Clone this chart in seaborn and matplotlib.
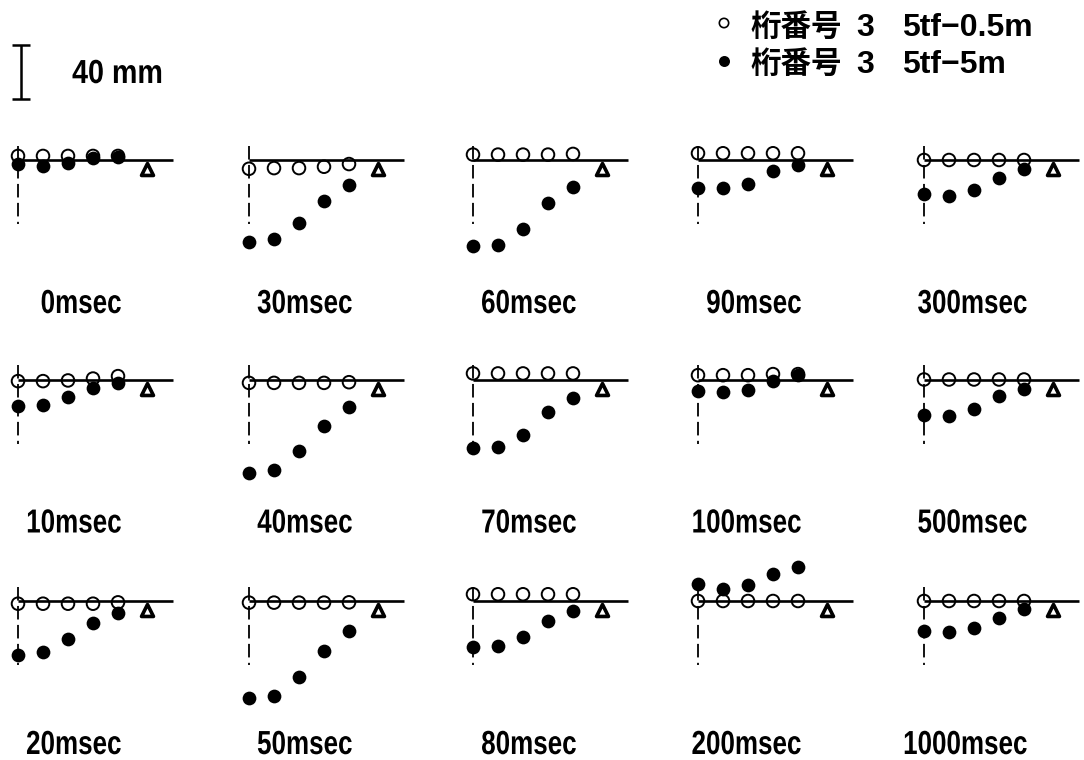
import numpy as np
import pandas as pd
import matplotlib
matplotlib.use("Agg")
import matplotlib.pyplot as plt
from matplotlib.patheffects import AbstractPathEffect
from matplotlib.transforms import Affine2D
import seaborn as sns

# ---- data -------------------------------------------------------------
# elapsed time of each snapshot (panels run down each column, 3 per column)
times = ["0msec", "10msec", "20msec", "30msec", "40msec", "50msec",
         "60msec", "70msec", "80msec", "90msec", "100msec", "200msec",
         "300msec", "500msec", "1000msec"]

# measuring points along girder no. 3
positions = [1, 2, 3, 4, 5]

# deflection in mm (downward positive), load case 5tf dropped from 0.5 m
drop_05m = [
    [-3.0, -3.0, -3.0, -3.0, -3.0],
    [1.2, 1.2, 0.7, -0.7, -2.5],
    [2.0, 2.0, 2.0, 2.0, 1.0],
    [6.5, 6.0, 6.0, 5.0, 3.0],
    [2.5, 2.5, 2.5, 2.5, 2.0],
    [1.2, 1.2, 1.2, 1.2, 1.0],
    [-4.0, -4.0, -4.0, -4.0, -4.5],
    [-4.5, -4.5, -4.5, -4.5, -4.5],
    [-5.0, -5.0, -5.0, -5.0, -5.0],
    [-5.0, -5.0, -5.0, -5.0, -5.0],
    [-3.2, -3.2, -3.2, -4.0, -4.0],
    [0.0, 0.0, 0.0, 0.0, 0.0],
    [0.0, 0.0, 0.0, 0.0, 0.0],
    [0.0, 0.0, 0.0, 0.0, 0.0],
    [0.0, 0.0, 0.0, 0.0, 0.0],
]

# deflection in mm (downward positive), load case 5tf dropped from 5 m
drop_5m = [
    [3.0, 4.5, 2.0, -1.5, -2.0],
    [19.8, 19.0, 13.0, 6.2, 2.5],
    [40.0, 37.8, 28.1, 16.3, 8.9],
    [61.0, 58.5, 46.5, 30.5, 18.5],
    [69.6, 66.7, 53.3, 34.8, 20.7],
    [72.0, 70.4, 56.3, 37.0, 22.2],
    [64.0, 63.0, 51.0, 32.0, 19.7],
    [51.0, 50.0, 41.0, 24.0, 14.0],
    [34.0, 33.3, 26.7, 14.8, 7.4],
    [20.5, 21.0, 18.0, 8.0, 4.0],
    [8.4, 9.2, 7.9, 1.0, -3.2],
    [-12.4, -9.2, -11.6, -20.3, -25.2],
    [25.4, 26.7, 22.2, 13.0, 6.7],
    [26.0, 27.4, 22.2, 11.9, 7.4],
    [22.2, 22.7, 19.7, 12.3, 6.2],
]

girder_label = "桁番号"
girder_no = "3"
load_cases = ["5tf−0.5m", "5tf−5m"]
SCALE_MM = 40

# long-form table for seaborn
rows = []
for t, lo, hi in zip(times, drop_05m, drop_5m):
    for p, a, b in zip(positions, lo, hi):
        rows.append((t, p, load_cases[0], a))
        rows.append((t, p, load_cases[1], b))
df = pd.DataFrame(rows, columns=["time", "pos", "case", "defl"])


class Condense(AbstractPathEffect):
    """Squeeze glyph outlines horizontally (narrow lettering)."""

    def __init__(self, sx=0.78, anchor="left"):
        super().__init__()
        self.sx = sx
        self.anchor = anchor

    def draw_path(self, renderer, gc, tpath, affine, rgbFace=None):
        ext = tpath.get_extents()
        if self.anchor == "right":
            pivot = ext.x1
        elif self.anchor == "center":
            pivot = 0.5 * (ext.x0 + ext.x1)
        else:
            pivot = ext.x0
        pre = Affine2D().translate(-pivot, 0).scale(self.sx, 1).translate(pivot, 0)
        renderer.draw_path(gc, tpath, pre + affine, rgbFace)


# ---- layout (pixels) --------------------------------------------------
W, H = 1084, 760
PX_PER_POS = 25.0
PX_PER_MM = 1.35
COL_X = [18, 249, 473, 698, 924]       # first measuring point of each column
ROW_Y = [160, 379.5, 601]              # girder line of each row
SUPPORT_POS = 6.15
BEAM_END = 7.2
GUIDE_TOP, GUIDE_BOTTOM = -10.5, 47.5  # mm, dashed guide at the first point

sns.set_style("white")
plt.rcParams["font.family"] = ["Liberation Sans", "Noto Sans CJK JP", "DejaVu Sans"]
plt.rcParams["font.weight"] = "bold"
plt.rcParams["text.color"] = "black"

fig = plt.figure(figsize=(W / 100, H / 100), dpi=100)
fig.patch.set_facecolor("white")

LABEL_FONT = dict(family=["Liberation Sans", "DejaVu Sans"], weight="bold", size=24,
                  color="black")

for i, t in enumerate(times):
    c, r = divmod(i, 3)
    x0, y0 = COL_X[c], ROW_Y[r]
    left, right = x0 - 30, min(x0 + 180, W)
    top, bottom = y0 - 60, y0 + 115
    ax = fig.add_axes([left / W, 1 - bottom / H, (right - left) / W, (bottom - top) / H])
    ax.set_xlim(1 + (left - x0) / PX_PER_POS, 1 + (right - x0) / PX_PER_POS)
    ax.set_ylim((bottom - y0) / PX_PER_MM, (top - y0) / PX_PER_MM)
    ax.set_axis_off()

    # girder line and dashed guide under the first point
    ax.plot([1, BEAM_END], [0, 0], color="black", lw=1.9, zorder=2, solid_capstyle="butt")
    ax.plot([1, 1], [GUIDE_TOP, GUIDE_BOTTOM], color="black", lw=1.3,
            linestyle=(0, (7.5, 3)), zorder=1)
    # support
    ax.scatter([SUPPORT_POS], [6.7], marker="^", s=74, facecolors="white",
               edgecolors="black", linewidths=2.6, zorder=5, clip_on=False)

    sub = df[df["time"] == t]
    hi = sub[sub["case"] == load_cases[1]]
    lo = sub[sub["case"] == load_cases[0]]
    sns.scatterplot(data=hi, x="pos", y="defl", ax=ax, color="black", s=98,
                    edgecolor="black", linewidth=0, legend=False, zorder=3, clip_on=False)
    sns.scatterplot(data=lo, x="pos", y="defl", ax=ax, facecolors="none", s=82,
                    edgecolor="black", linewidth=1.4, legend=False, zorder=4, clip_on=False)
    ax.set_xlabel("")
    ax.set_ylabel("")

    fig.text((x0 + 104) / W, 1 - (y0 + 153) / H, t, ha="right", va="baseline",
             path_effects=[Condense(0.78, "right")], **LABEL_FONT)

# ---- scale bar ----------------------------------------------------------
s_top, s_bot = 30, 115
sax = fig.add_axes([0, 1 - s_bot / H, 60 / W, (s_bot - s_top) / H])
sax.set_xlim(0, 60)
sax.set_ylim((99 - s_bot) / PX_PER_MM, (99 - s_top) / PX_PER_MM)
sax.set_axis_off()
sax.errorbar([21], [SCALE_MM / 2], yerr=[SCALE_MM / 2], fmt="none", color="black",
             capsize=6.8, capthick=1.8, elinewidth=1.8)
fig.text(72 / W, 1 - 83 / H, f"{SCALE_MM} mm", ha="left", va="baseline",
         path_effects=[Condense(0.86, "left")], **LABEL_FONT)

# ---- legend -------------------------------------------------------------
lax = fig.add_axes([0, 0, 1, 1])
lax.set_xlim(0, W)
lax.set_ylim(H, 0)
lax.set_axis_off()
leg_rows = [(23, 36, load_cases[0], "none"), (61, 73, load_cases[1], "black")]
LEG_FONT = dict(LABEL_FONT, size=23)
for my, base, case, fc in leg_rows:
    lax.scatter([724], [my], s=45, facecolors=fc, edgecolors="black", linewidths=1.2)
    lax.text(750, base, girder_label, ha="left", va="baseline", fontsize=22,
             family=["Noto Sans CJK JP", "DejaVu Sans"], weight="bold", color="black")
    lax.text(865, base, girder_no, ha="center", va="baseline", **LEG_FONT)
    lax.text(902, base, case, ha="left", va="baseline", **LEG_FONT)

fig.savefig("out.png", dpi=100, facecolor="white")
